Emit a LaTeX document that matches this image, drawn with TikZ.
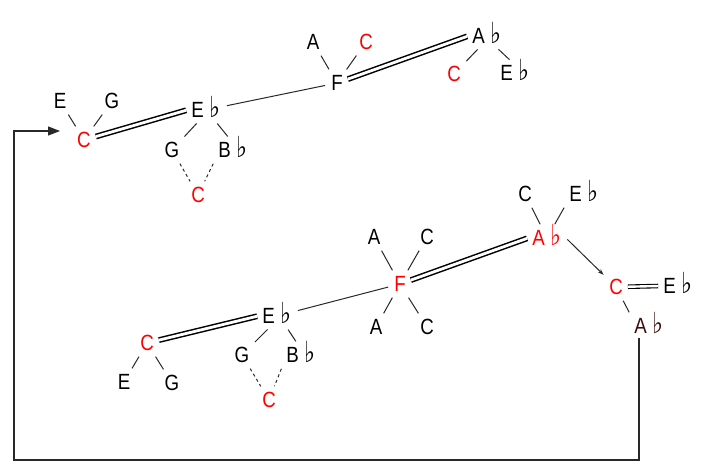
\documentclass[tikz,border=0pt]{standalone}
\usepackage{fontspec}
\setmainfont{Liberation Sans}[FakeStretch=0.85]
\newfontfamily\symfont{DejaVu Sans}[FakeStretch=0.8]
\usetikzlibrary{arrows.meta}
\newcommand\fl{\hspace{6pt}{\symfont\fontsize{29}{29}\selectfont ♭}}
\definecolor{lc}{RGB}{40,40,40}
\definecolor{dk}{RGB}{60,12,12}
\tikzset{
  nt/.style={inner sep=4pt, text height=15.5pt, text depth=0pt, font=\fontsize{22}{22}\selectfont},
  rd/.style={nt, text=red},
  thin/.style={draw=lc, line width=1pt, shorten >=2pt, shorten <=2pt},
  dbl/.style={draw=black, double=white, double distance=2.8pt, line width=1.5pt, shorten >=1pt, shorten <=1pt},
  dsh/.style={draw=lc, line width=1pt, dash pattern=on 3pt off 3pt, shorten >=2pt, shorten <=2pt},
}
\begin{document}
\begin{tikzpicture}[x=1pt,y=-1pt]
\useasboundingbox[fill=white] (0,0) rectangle (709,466);
% top group
\node[rd] (c1) at (84,140) {C};
\node[nt] (e1) at (60,101) {E};
\node[nt] (g1) at (112,101) {G};
\node[nt] (eb1) at (206,110) {E\fl};
\node[nt] (g2) at (172,150) {G};
\node[nt] (bb1) at (233,150) {B\fl};
\node[rd] (c2) at (198,195) {C};
\node[nt] (f1) at (337,83) {F};
\node[nt] (a1) at (313,42) {A};
\node[rd] (c3) at (366,42) {C};
\node[nt] (ab1) at (487,36) {A\fl};
\node[rd] (c4) at (454,74) {C};
\node[nt] (eb2) at (515,73) {E\fl};
% bottom group
\node[rd] (c5) at (147,343) {C};
\node[nt] (e3) at (124,382) {E};
\node[nt] (g3) at (172,383) {G};
\node[nt] (eb3) at (277,316) {E\fl};
\node[nt] (g4) at (242,355) {G};
\node[nt] (bb2) at (301,355) {B\fl};
\node[rd] (c6) at (269,400) {C};
\node[rd] (f2) at (400,284) {F};
\node[nt] (a2) at (374,237) {A};
\node[nt] (c7) at (427,237) {C};
\node[nt] (a3) at (376,327) {A};
\node[nt] (c8) at (427,327) {C};
\node[rd] (ab2) at (547,238) {A\fl};
\node[nt] (c9) at (525,194) {C};
\node[nt] (eb4) at (584,194) {E\fl};
\node[rd] (c10) at (616,287) {C};
\node[nt] (eb5) at (678,286) {E\fl};
\node[nt, text=dk] (ab3) at (649,326) {A\fl};
\coordinate (p1) at (639,460);
\coordinate (p2) at (14,460);
\coordinate (tip) at (60,131);
% top connectors
\draw[thin] (e1) -- (c1);
\draw[thin] (g1) -- (c1);
\draw[dbl] (c1) -- (eb1.west);
\draw[thin] ([xshift=-8pt]eb1.south) -- (g2);
\draw[thin] ([xshift=10pt]eb1.south) -- ([xshift=-4pt]bb1.north);
\draw[dsh] (g2) -- (c2);
\draw[dsh] (bb1.south west) -- (c2);
\draw[thin] (eb1) -- (f1);
\draw[thin] (a1) -- (f1);
\draw[thin] (c3) -- (f1);
\draw[dbl] (f1) -- (ab1.west);
\draw[thin] ([xshift=-8pt]ab1.south) -- (c4);
\draw[thin] ([xshift=10pt]ab1.south) -- ([xshift=-4pt]eb2.north);
% bottom connectors
\draw[thin] (c5) -- (e3);
\draw[thin] (c5) -- (g3);
\draw[dbl] (c5) -- (eb3.west);
\draw[thin] ([xshift=-8pt]eb3.south) -- (g4);
\draw[thin] ([xshift=10pt]eb3.south) -- ([xshift=-4pt]bb2.north);
\draw[dsh] (g4) -- (c6);
\draw[dsh] (bb2.south west) -- (c6);
\draw[thin] (eb3) -- (f2);
\draw[thin] (a2) -- (f2);
\draw[thin] (c7) -- (f2);
\draw[thin] (a3) -- (f2);
\draw[thin] (c8) -- (f2);
\draw[dbl] (f2) -- (ab2.west);
\draw[thin] (c9) -- (ab2);
\draw[thin] (eb4.south west) -- (ab2);
\draw[thin, -{Stealth[length=6pt,width=4pt]}] (ab2.east) -- (c10);
\draw[dbl, line width=1.1pt, double distance=2.4pt] (c10) -- (eb5.west);
\draw[thin] (c10) -- (ab3.north west);
% loop arrow
\draw[draw=lc, line width=1.3pt, -{Triangle[length=12pt,width=9pt]}] (ab3.south -| p1) -- (p1) -- (p2) |- (tip);
\end{tikzpicture}
\end{document}
